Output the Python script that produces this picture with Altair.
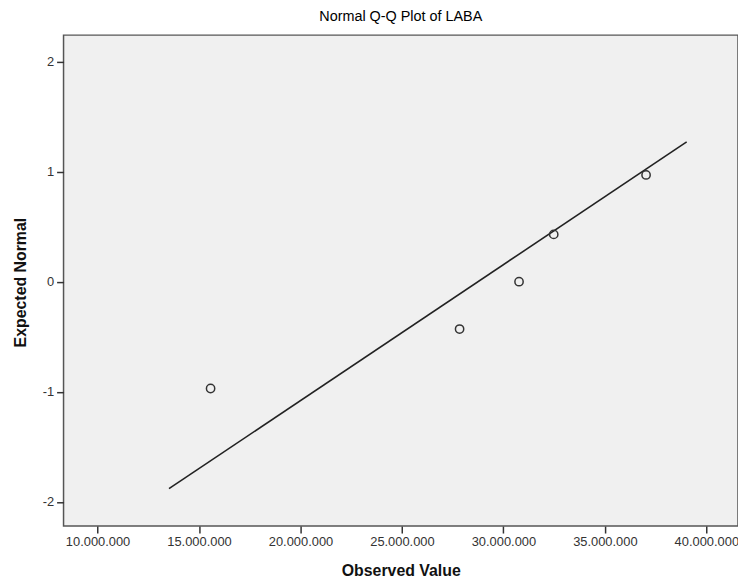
import altair as alt
import pandas as pd

observed = [15570000, 27840000, 30770000, 32480000, 37030000]
expected_normal = [-0.97, -0.43, 0.0, 0.43, 0.97]

# Reference line end points
line_observed = [13520000, 39030000]
line_expected = [-1.88, 1.27]

x_ticks = [10000000, 15000000, 20000000, 25000000, 30000000, 35000000, 40000000]
y_ticks = [-2, -1, 0, 1, 2]

points_df = pd.DataFrame({"obs": observed, "exp": expected_normal})
line_df = pd.DataFrame({"obs": line_observed, "exp": line_expected})

FONT = "Liberation Sans"

x_scale = alt.Scale(domain=[8324000, 41560000], nice=False, zero=False)
y_scale = alt.Scale(domain=[-2.22, 2.24], nice=False, zero=False)

x_axis = alt.Axis(
    title="Observed Value",
    values=x_ticks,
    labelExpr="replace(format(datum.value, ','), regexp(',', 'g'), '.')",
    grid=False,
    domain=False,
    tickSize=7,
    tickColor="#333333",
    tickWidth=1.5,
    labelPadding=3,
    labelFont=FONT,
    labelFontSize=13,
    labelColor="#333333",
    titleFont=FONT,
    titleFontSize=16,
    titleFontWeight="bold",
    titleColor="#111111",
    titleBaseline="middle",
    titleY=45,
)

y_axis = alt.Axis(
    title="Expected Normal",
    values=y_ticks,
    labelExpr="datum.value + ''",
    grid=False,
    domain=False,
    tickSize=7,
    tickColor="#333333",
    tickWidth=1.5,
    labelPadding=3,
    labelFont=FONT,
    labelFontSize=13,
    labelColor="#333333",
    titleFont=FONT,
    titleFontSize=16,
    titleFontWeight="bold",
    titleColor="#111111",
    titleBaseline="middle",
    titleX=-43,
    titleY=249,
)

line = alt.Chart(line_df).mark_line(color="#222222", strokeWidth=1.6).encode(
    x=alt.X("obs:Q", scale=x_scale, axis=x_axis),
    y=alt.Y("exp:Q", scale=y_scale, axis=y_axis),
)

points = alt.Chart(points_df).mark_point(
    shape="circle", filled=False, color="#333333", size=70, strokeWidth=1.5, opacity=1
).encode(
    x=alt.X("obs:Q", scale=x_scale),
    y=alt.Y("exp:Q", scale=y_scale),
)

chart = (
    alt.layer(line, points)
    .properties(
        width=680,
        height=495,
        title=alt.TitleParams(
            "Normal Q-Q Plot of LABA",
            font=FONT,
            fontSize=14.5,
            fontWeight="normal",
            color="#000000",
            anchor="middle",
            baseline="alphabetic",
            offset=0,
        ),
        autosize=alt.AutoSizeParams(type="none"),
        padding={"left": 56, "top": 25, "right": 0, "bottom": 52},
    )
    .configure(background="white")
    .configure_view(fill="#F0F0F0", stroke="#555555", strokeWidth=1.5)
)

chart.save("out.html", embed_options={"renderer": "svg", "actions": False})
